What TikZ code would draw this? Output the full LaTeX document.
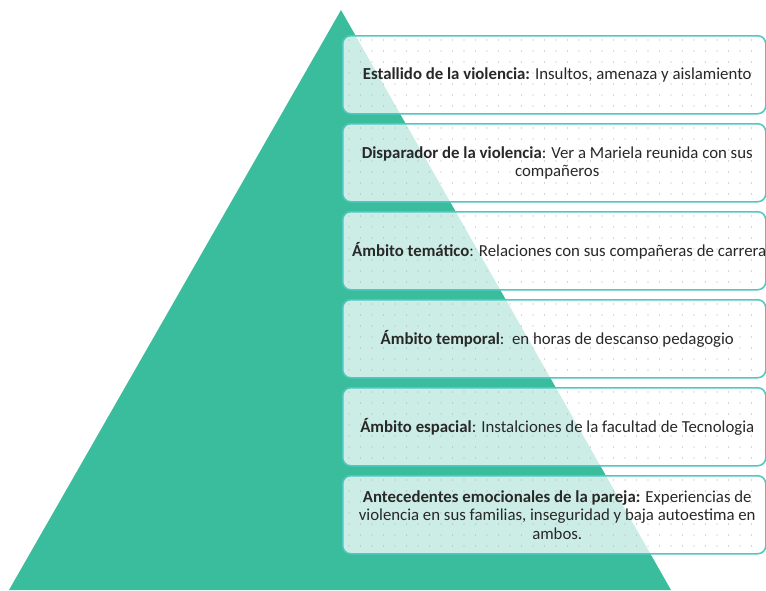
\documentclass[tikz,border=0pt]{standalone}
\usepackage{fontspec}
\setmainfont{Carlito}
\definecolor{tealfill}{RGB}{58,189,157}
\definecolor{boxline}{RGB}{78,200,194}
\definecolor{textgray}{RGB}{40,40,40}
\definecolor{dotgray}{RGB}{175,175,175}
\begin{document}
\begin{tikzpicture}[x=1pt,y=-1pt,
  lvlbox/.style={draw=boxline, line width=1.5pt, rounded corners=8pt, fill=white,
    fill opacity=0.74, minimum width=423pt, minimum height=78pt, anchor=north west,
    inner sep=0pt},
  lvltext/.style={align=center, inner sep=0pt, text=textgray,
    font=\fontsize{16.8}{18.5}\selectfont}]
\useasboundingbox (0,0) rectangle (766,590);
% triangle
\fill[tealfill] (341,10) -- (671,590) -- (9,590) -- cycle;
% boxes
\foreach \i in {1,...,6}{
  \node[lvlbox] (b\i) at (342,{35+88*(\i-1)}) {};
}
% sparse dot texture inside the boxes
\begin{scope}
  \clip (345,38) rectangle (762,110)
        (345,126) rectangle (762,198)
        (345,214) rectangle (762,286)
        (345,302) rectangle (762,374)
        (345,390) rectangle (762,462)
        (345,478) rectangle (762,550);
  \foreach \x in {349,360.5,...,762}{
    \foreach \y in {40,51,...,550}{
      \fill[dotgray] (\x,\y) circle (0.55pt);
    }
  }
\end{scope}
% texts
\node[lvltext, xshift=3pt] (t1) at (b1.center) {\textbf{Estallido de la violencia:} Insultos, amenaza y aislamiento};
\node[lvltext, xshift=3pt] (t2) at (b2.center) {\textbf{Disparador de la violencia}: Ver a Mariela reunida con sus\\compañeros};
\node[lvltext, xshift=5pt] (t3) at (b3.center) {\textbf{Ámbito temático}: Relaciones con sus compañeras de carrera};
\node[lvltext, xshift=3pt] (t4) at (b4.center) {\textbf{Ámbito temporal}:~~en horas de descanso pedagogio};
\node[lvltext, xshift=3pt] (t5) at (b5.center) {\textbf{Ámbito espacial}: Instalciones de la facultad de Tecnologia};
\node[lvltext, xshift=3pt] (t6) at (b6.center) {\textbf{Antecedentes emocionales de la pareja:} Experiencias de\\violencia en sus familias, inseguridad y baja autoestima en\\ambos.};
\end{tikzpicture}
\end{document}
